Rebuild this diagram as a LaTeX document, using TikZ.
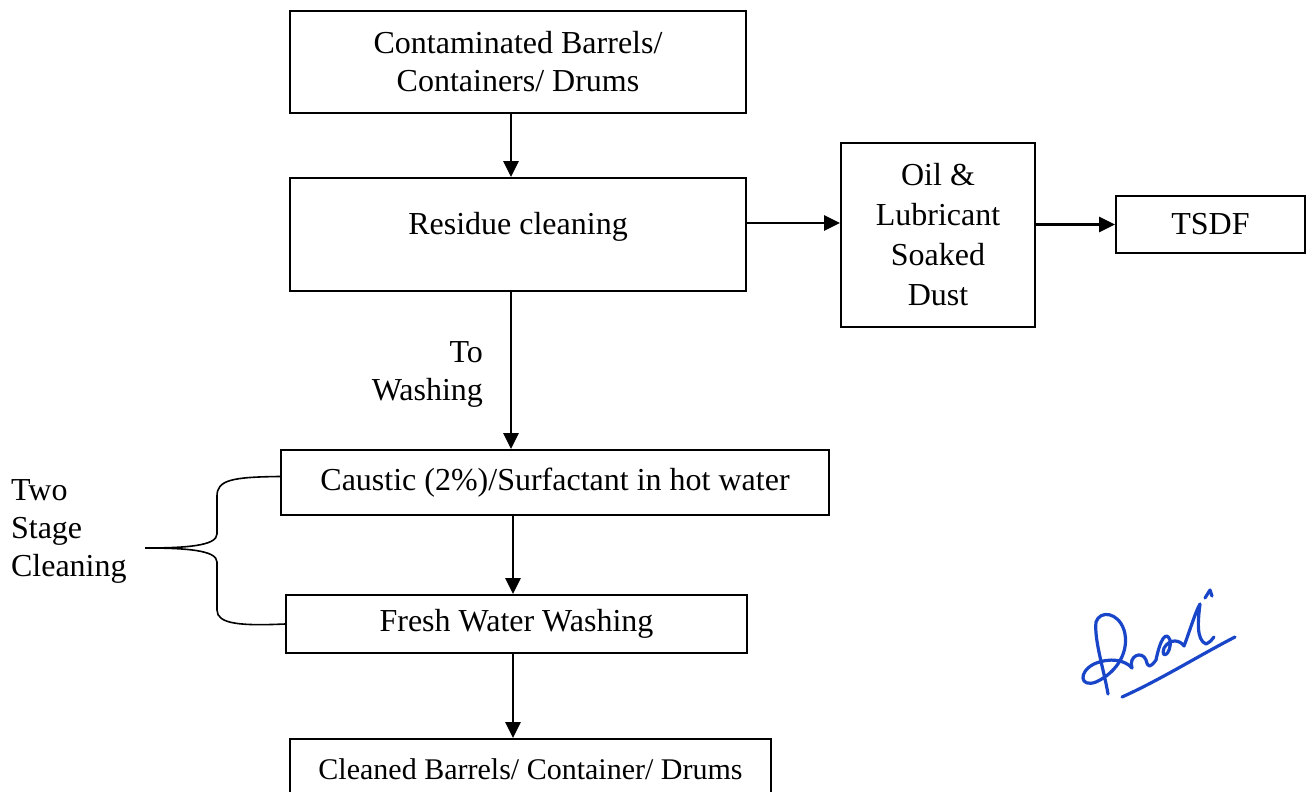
\documentclass[tikz,border=0pt]{standalone}
\usepackage{fontspec}
\setmainfont{Liberation Serif}
\usetikzlibrary{arrows.meta,positioning}
\definecolor{sigblue}{RGB}{25,70,200}
\tikzset{
	box/.style={draw,rectangle,align=center,line width=0.9pt,inner sep=2pt},
	txt/.style={font=\fontsize{16}{19}\selectfont},
	flow/.style={-{Triangle[length=8pt,width=7.5pt]},line width=1.3pt},
	brace/.style={line width=0.8pt},
	sign/.style={sigblue,line width=1.6pt,line cap=round,line join=round}
}
\begin{document}
\begin{tikzpicture}[x=0.5pt,y=-0.5pt,every node/.style={txt}]
            \useasboundingbox (0,0) rectangle (1307,792);
            \coordinate (upcol) at (511,0);
            \coordinate (lowcol) at (513,0);
            \node[box,minimum width=228pt,minimum height=51pt] (cont) at (518,62) {Contaminated Barrels/\\Containers/ Drums};
            \node[box,minimum width=228pt,minimum height=56.5pt,text depth=11pt] (res) at (518,234.5) {Residue cleaning};
            \node[box,minimum width=97pt,minimum height=92pt,font=\fontsize{16}{20}\selectfont] (oil) at (938,235) {Oil \&\\Lubricant\\Soaked\\Dust};
            \node[box,minimum width=94.5pt,minimum height=28.5pt] (tsdf) at (1210.5,224.5) {TSDF};
            \node[box,minimum width=274pt,minimum height=32.5pt] (caus) at (555,482.5) {Caustic (2\%)/Surfactant in hot water};
            \node[box,minimum width=230.5pt,minimum height=29pt] (fresh) at (516.5,624) {Fresh Water Washing};
            \node[box,minimum width=240.5pt,minimum height=30.5pt,font=\fontsize{15}{18}\selectfont] (clean) at (530.5,769.5) {Cleaned Barrels/ Container/ Drums};
            \node[anchor=east,align=right] (towash) at (490,374) {To\\Washing};
            \node[anchor=west,align=left] (twostage) at (4,531) {Two\\Stage\\Cleaning};
            \coordinate (tip) at (145,548);
            \draw[flow] (cont.south -| upcol) -- (res.north -| upcol);
            \draw[flow] (res.south -| upcol) -- (caus.north -| upcol);
            \draw[flow] (caus.south -| lowcol) -- (fresh.north -| lowcol);
            \draw[flow] (fresh.south -| lowcol) -- (clean.north -| lowcol);
            \draw[flow] ([yshift=5.75pt]res.east) -- ([yshift=5.75pt]res.east -| oil.west);
            \draw[flow] (oil.east |- tsdf.west) -- (tsdf.west);
            \draw[brace] ([yshift=3pt]caus.west) .. controls (232,477) and (217,480) .. (217,496) -- (217,534) .. controls (217,546) and (185,548) .. (tip)
                .. controls (185,548) and (217,550) .. (217,562) -- (217,610) .. controls (217,624) and (240,626) .. (fresh.west);
            \draw[sign] (1122,697) .. controls (1160,680) and (1200,655) .. (1235,637);
            \draw[sign] (1108,694) .. controls (1104,670) and (1094,640) .. (1096,622) .. controls (1100,610) and (1118,612) .. (1124,630)
                .. controls (1130,650) and (1118,672) .. (1096,682) .. controls (1080,688) and (1078,672) .. (1094,664)
                .. controls (1110,657) and (1125,660) .. (1132,668);
            \draw[sign] (1132,668) .. controls (1128,656) and (1142,650) .. (1146,660) .. controls (1148,668) and (1150,668) .. (1156,660)
                .. controls (1160,640) and (1166,630) .. (1170,640) .. controls (1172,655) and (1160,660) .. (1164,648)
                .. controls (1170,638) and (1180,640) .. (1184,646) .. controls (1188,636) and (1196,610) .. (1200,604)
                .. controls (1198,620) and (1196,640) .. (1206,644) .. controls (1210,642) and (1212,640) .. (1214,637);
            \draw[sign] (1205,598) -- (1210,590) -- (1212,596);
        \end{tikzpicture}
\end{document}
